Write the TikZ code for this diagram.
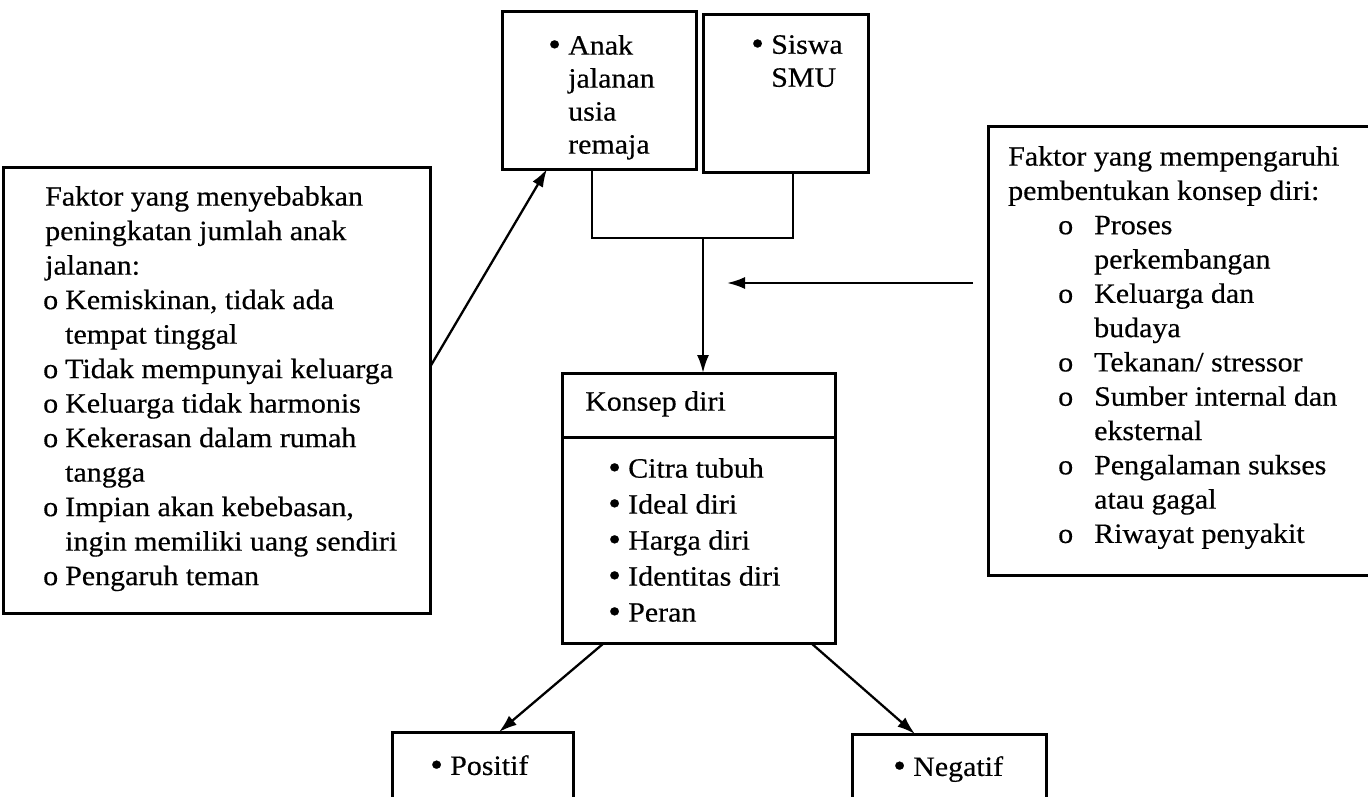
\documentclass[tikz,border=0pt]{standalone}
\usepackage{fontspec}
\setmainfont{Liberation Serif}[FakeStretch=1.07,FakeBold=0.4]
\usetikzlibrary{arrows.meta,calc}
\newcommand{\lmark}{\makebox[22pt][l]{o}}
\newcommand{\lind}{\hspace*{22pt}}
\newcommand{\rmark}{\hspace*{50pt}\makebox[36pt][l]{o}}
\newcommand{\rind}{\hspace*{86pt}}
\newcommand{\bul}{\makebox[16pt][l]{\hspace*{-4pt}\fontsize{34}{34}\selectfont\raisebox{-1pt}{•}}}
\newcommand{\bind}{\hspace*{16pt}}
\begin{document}
\begin{tikzpicture}[x=1pt,y=-1pt,
  box/.style={draw,line width=3pt,inner sep=0pt,outer sep=0pt},
  txt/.style={anchor=north west,inner sep=0pt,align=left,font=\fontsize{28}{34.5}\selectfont},
  arr/.style={line width=2.3pt,-{Latex[length=18pt,width=12pt]}},
  link/.style={line width=2.5pt}]
\useasboundingbox[fill=white] (0,0) rectangle (1368,797);

% boxes
\node[box,minimum width=427pt,minimum height=446pt] (L) at (216.5,390) {};
\node[box,minimum width=194pt,minimum height=157pt] (A) at (599,90.5) {};
\node[box,minimum width=165pt,minimum height=157pt] (S) at (785.5,93.5) {};
\node[box,minimum width=387pt,minimum height=448pt] (R) at (1181.5,351) {};
\node[box,minimum width=273pt,minimum height=270pt] (K) at (698.5,508) {};
\draw[line width=3pt] ($(K.north west)+(0,64)$) -- ($(K.north east)+(0,64)$);
\node[box,minimum width=181pt,minimum height=98pt] (P) at (482.5,781) {};
\node[box,minimum width=194pt,minimum height=96pt] (N) at (949,782) {};

% texts
\node[txt] (Lt) at (43,186) {\hspace*{2pt}Faktor yang menyebabkan\\
\hspace*{2pt}peningkatan jumlah anak\\
\hspace*{2pt}jalanan:\\
\lmark Kemiskinan, tidak ada\\
\lind tempat tinggal\\
\lmark Tidak mempunyai keluarga\\
\lmark Keluarga tidak harmonis\\
\lmark Kekerasan dalam rumah\\
\lind tangga\\
\lmark Impian akan kebebasan,\\
\lind ingin memiliki uang sendiri\\
\lmark Pengaruh teman};

\node[txt,font=\fontsize{28}{34.3}\selectfont] (Rt) at (1008,146) {Faktor yang mempengaruhi\\
pembentukan konsep diri:\\
\rmark Proses\\
\rind perkembangan\\
\rmark Keluarga dan\\
\rind budaya\\
\rmark Tekanan/ stressor\\
\rmark Sumber internal dan\\
\rind eksternal\\
\rmark Pengalaman sukses\\
\rind atau gagal\\
\rmark Riwayat penyakit};

\node[txt,font=\fontsize{28}{33}\selectfont] (At) at (552,35) {\bul Anak\\ \bind jalanan\\ \bind usia\\ \bind remaja};
\node[txt,font=\fontsize{28}{33}\selectfont] (St) at (755,35) {\bul Siswa\\ \bind SMU};

\node[txt] (Kh) at (585,391) {Konsep diri};
\node[txt,font=\fontsize{28}{36}\selectfont] (Ki) at (612,458) {\bul Citra tubuh\\ \bul Ideal diri\\ \bul Harga diri\\ \bul Identitas diri\\ \bul Peran};

\node[txt] (Pt) at (434,755) {\bul Positif};
\node[txt] (Nt) at (897,756) {\bul Negatif};

% connectors
\draw[link] ($(A.south west)+(90,0)$) -- ++(0,69) -| ($(S.south west)+(90,0)$);
\coordinate (J) at (703,238);
\draw[arr] (J) -- (K.north -| J);
\coordinate (Rs) at (973,283);
\coordinate (Re) at (727,283);
\draw[arr] (Rs) -- (Re);
\draw[arr] (L.east |- 0,367) -- ($(A.south west)+(45,0)$);
\draw[arr] ($(K.south west)+(42,0)$) -- ($(P.north west)+(107,0)$);
\draw[arr] ($(K.south west)+(249,0)$) -- ($(N.north west)+(63,0)$);
\end{tikzpicture}
\end{document}
